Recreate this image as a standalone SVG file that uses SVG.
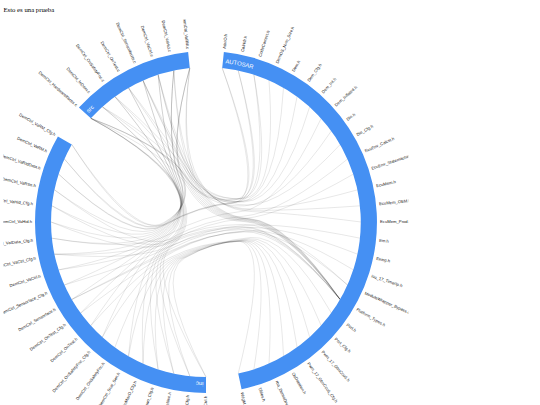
<svg xmlns="http://www.w3.org/2000/svg" width="540" height="405" viewBox="0 0 540 405">
<style>
.lnk{fill:none;stroke:#000;stroke-opacity:.16;stroke-width:.6}
.lbl{font-family:"Liberation Sans",Arial,sans-serif;font-size:4.2px;fill:#222}
.le{text-anchor:end}
.arc{fill:#4590f3}
.gl{font-family:"Liberation Sans",Arial,sans-serif;font-size:5.9px;fill:#fff}
</style>
<defs>
<clipPath id="clip"><rect x="3.4" y="19.5" width="405" height="400"/></clipPath>
<path id="tpA" d="M16.72,-159.12A160,160 0 0 1 33.27,156.5"/>
<path id="tpI" d="M0,160A160,160 0 0 1 -138.6,-80"/>
<path id="tpS" d="M-118.9,-107.1A160,160 0 0 1 -16.7,-159.1"/>
</defs>
<rect width="540" height="405" fill="#fff"/>
<text x="3.4" y="12" font-family="'Liberation Serif',serif" font-size="6.75" fill="#000">Esto es una prueba</text>
<g clip-path="url(#clip)">
<g transform="translate(206,222)">
<g id="links">
<path class="lnk" d="M-115.2,-103.7Q-42.9,-64.6 -25.8,-30.4T-35,25.2T0,155"/>
<path class="lnk" d="M-115.2,-103.7Q-43.5,-64.6 -26.7,-30.4T-36.5,25.1T-16.2,154.1"/>
<path class="lnk" d="M-115.2,-103.7Q-44.1,-64.7 -27.6,-30.5T-38,24.8T-32.2,151.6"/>
<path class="lnk" d="M-115.2,-103.7Q-44.7,-64.8 -28.4,-30.8T-39.5,24.4T-47.9,147.4"/>
<path class="lnk" d="M-103.7,-115.2Q-43.9,-66.4 -28.2,-32.2T-40.2,23.2T-63,141.6"/>
<path class="lnk" d="M-103.7,-115.2Q-44.5,-66.6 -29,-32.6T-41.6,22.6T-77.5,134.2"/>
<path class="lnk" d="M-91.1,-125.4Q-44,-68.5 -29.3,-34.6T-43.4,20.2T-103.7,115.2"/>
<path class="lnk" d="M-91.1,-125.4Q-44.5,-68.9 -30,-35.3T-44.4,19.1T-115.2,103.7"/>
<path class="lnk" d="M-77.5,-134.2Q-43.3,-70.4 -29.3,-36.8T-44.6,17.4T-125.4,91.1"/>
<path class="lnk" d="M-77.5,-134.2Q-43.7,-70.9 -29.8,-37.6T-45.4,16.2T-134.2,77.5"/>
<path class="lnk" d="M-63,-141.6Q-42.3,-72.3 -28.8,-39.1T-45.3,14.4T-141.6,63"/>
<path class="lnk" d="M-63,-141.6Q-42.5,-72.8 -29.2,-39.9T-45.9,13T-147.4,47.9"/>
<path class="lnk" d="M-47.9,-147.4Q-41,-74.1 -28,-41.4T-45.4,11.2T-151.6,32.2"/>
<path class="lnk" d="M-47.9,-147.4Q-41.1,-74.7 -28.1,-42.3T-45.6,9.7T-154.1,16.2"/>
<path class="lnk" d="M-32.2,-151.6Q-39.3,-76.4 -26.6,-44.5T-44.8,6.4T-154.1,-16.2"/>
<path class="lnk" d="M-32.2,-151.6Q-39.2,-77 -26.5,-45.4T-44.5,4.9T-151.6,-32.2"/>
<path class="lnk" d="M-32.2,-151.6Q-39.3,-75.8 -26.7,-43.6T-44.8,7.9T-155,0"/>
<path class="lnk" d="M-16.2,-154.1Q-37,-78.4 -24.4,-47.4T-42.7,1.9T-141.6,-63"/>
<path class="lnk" d="M-16.2,-154.1Q-36.8,-79 -24,-48.2T-42,0.5T-134.2,-77.5"/>
<path class="lnk" d="M-16.2,-154.1Q-37.3,-77.8 -24.8,-46.5T-43.2,3.3T-147.4,-47.9"/>
<path class="lnk" d="M-115.2,-103.7Q-37.8,-67.5 -18.2,-34.7T39,-0.3T134.2,77.5"/>
<path class="lnk" d="M-115.2,-103.7Q-40,-75.4 -21.4,-46.6T33.7,-20.1T77.5,-134.2"/>
<path class="lnk" d="M-115.2,-103.7Q-38.2,-73.8 -18.7,-44.2T38.2,-16.1T125.4,-91.1"/>
<path class="lnk" d="M-103.7,-115.2Q-36.5,-68.8 -17.1,-35.8T39.7,-0.9T134.2,77.5"/>
<path class="lnk" d="M-91.1,-125.4Q-35.1,-69.9 -15.9,-36.7T40.4,-1.5T134.2,77.5"/>
<path class="lnk" d="M-91.1,-125.4Q-36.7,-77.5 -18.4,-48.2T36.3,-20.5T91.1,-125.4"/>
<path class="lnk" d="M-77.5,-134.2Q-33.6,-70.9 -14.7,-37.6T41.1,-2T134.2,77.5"/>
<path class="lnk" d="M-77.5,-134.2Q-34.7,-78.1 -16.4,-48.4T38.3,-20.1T103.7,-115.2"/>
<path class="lnk" d="M-63,-141.6Q-32,-71.7 -13.3,-38.3T41.9,-2.4T134.2,77.5"/>
<path class="lnk" d="M-63,-141.6Q-32,-77.5 -13.3,-47T41.9,-17T134.2,-77.5"/>
<path class="lnk" d="M-47.9,-147.4Q-30.3,-72.4 -11.9,-38.8T42.8,-2.8T134.2,77.5"/>
<path class="lnk" d="M-47.9,-147.4Q-29.6,-76.5 -10.9,-45T44.4,-13T151.6,-32.2"/>
<path class="lnk" d="M-32.2,-151.6Q-28.5,-72.9 -10.4,-39.2T43.7,-3T134.2,77.5"/>
<path class="lnk" d="M-32.2,-151.6Q-27.8,-76.4 -9.3,-44.5T45.5,-11.8T154.1,-16.2"/>
<path class="lnk" d="M-16.2,-154.1Q-26.7,-73.1 -8.9,-39.4T44.6,-3.1T134.2,77.5"/>
<path class="lnk" d="M-16.2,-154.1Q-25.9,-76 -7.8,-43.8T46.5,-10.4T155,0"/>
<path class="lnk" d="M-115.2,-103.7Q-42.3,-76.2 -24.8,-47.7T27.9,-22T16.2,-154.1"/>
<path class="lnk" d="M-103.7,-115.2Q-40.4,-77.3 -22.9,-48.7T30.1,-22.4T32.2,-151.6"/>
<path class="lnk" d="M-63,-141.6Q-35.2,-80.2 -18.2,-50.9T33.8,-23.5T47.9,-147.4"/>
<path class="lnk" d="M-47.9,-147.4Q-32.9,-80.6 -15.9,-51.1T36.1,-23.3T63,-141.6"/>
<path class="lnk" d="M0,155Q-52.3,53.8 -21.5,36.1T44.7,15.5T125.4,91.1"/>
<path class="lnk" d="M-16.2,154.1Q-54.5,54.1 -23.5,36.7T42.8,16.7T115.2,103.7"/>
<path class="lnk" d="M-32.2,151.6Q-56.7,54.3 -25.7,37.1T40.8,17.6T103.7,115.2"/>
<path class="lnk" d="M-47.9,147.4Q-59,54.2 -27.9,37.3T38.8,18.3T91.1,125.4"/>
<path class="lnk" d="M-63,141.6Q-61.2,53.9 -30.1,37.3T36.6,18.8T77.5,134.2"/>
<path class="lnk" d="M-77.5,134.2Q-63.4,53.3 -32.2,37T34.5,19.1T63,141.6"/>
<path class="lnk" d="M-91.1,125.4Q-65.5,52.5 -34.4,36.5T32.3,19.1T47.9,147.4"/>
<path class="lnk" d="M-103.7,115.2Q-67.5,51.5 -36.4,35.8T30.1,19T32.2,151.6"/>
<path class="lnk" d="M-115.2,103.7Q-64.4,46.4 -31,28.9T40.2,8.6T147.4,47.9"/>
<path class="lnk" d="M-125.4,91.1Q-65.8,45.5 -32.3,28.5T39.1,9.3T141.6,63"/>
<path class="lnk" d="M-134.2,77.5Q-66.4,42.8 -32.6,25.5T39.6,5.7T151.6,32.2"/>
<path class="lnk" d="M-141.6,63Q-67.2,40.6 -33.1,23.3T39.4,3.3T154.1,16.2"/>
<path class="lnk" d="M-147.4,47.9Q-68.1,36.5 -34,18.3T38.4,-3.5T147.4,-47.9"/>
<path class="lnk" d="M-151.6,32.2Q-68.8,34.2 -34.7,15.9T37.6,-5.8T141.6,-63"/>
<path class="lnk" d="M-154.1,16.2Q-70,30.8 -36.5,12.1T35,-10.5T115.2,-103.7"/>
<path class="lnk" d="M-155,0Q-69.4,35.8 -35.5,20.8T36.8,5.5T134.2,77.5"/>
<path class="lnk" d="M-154.1,-16.2Q-69.3,34 -35.4,19.3T36.8,4.6T134.2,77.5"/>
<path class="lnk" d="M-151.6,-32.2Q-68.8,31.6 -34.7,17T37.6,2.4T141.6,63"/>
<path class="lnk" d="M-147.4,-47.9Q-73,21.7 -41.4,3.3T26.1,-18.9T16.2,-154.1"/>
<path class="lnk" d="M-141.6,-63Q-71.7,20.1 -40,2T28,-19.5T32.2,-151.6"/>
<path class="lnk" d="M-134.2,-77.5Q-70.3,18.7 -38.4,0.9T29.8,-19.9T47.9,-147.4"/>
<path class="lnk" d="M-134.2,77.5Q-67.1,44.5 -33.5,28.1T37.9,9.9T134.2,77.5"/>
<path class="lnk" d="M-151.6,32.2Q-69,39.4 -35.2,23.8T37,7.4T134.2,77.5"/>
</g>
<g id="group-AUTOSAR">
<path class="arc" d="M17.87,-170.06A171,171 0 0 1 35.55,167.26L32.2,151.6A155,155 0 0 0 16.2,-154.1Z"/>
<text class="gl"><textPath href="#tpA" startOffset="2.5">AUTOSAR</textPath></text>
</g>
<g id="group-inc">
<path class="arc" d="M0,171A171,171 0 0 1 -148.09,-85.5L-134.2,-77.5A155,155 0 0 0 0,155Z"/>
<text class="gl"><textPath href="#tpI" startOffset="2.5">inc</textPath></text>
</g>
<g id="group-src">
<path class="arc" d="M-127.07,-114.42A171,171 0 0 1 -17.87,-170.06L-16.2,-154.1A155,155 0 0 0 -115.2,-103.7Z"/>
<text class="gl"><textPath href="#tpS" startOffset="2.5">src</textPath></text>
</g>
<g id="leaves">
<g id="a0"><text class="lbl" dy=".35em" transform="rotate(-84)translate(174)">AdvIO.h</text></g>
<g id="a1"><text class="lbl" dy=".35em" transform="rotate(-78)translate(174)">CalHdr.h</text></g>
<g id="a2"><text class="lbl" dy=".35em" transform="rotate(-72)translate(174)">CodeCorrect.h</text></g>
<g id="a3"><text class="lbl" dy=".35em" transform="rotate(-66)translate(174)">DemOS_Nvm_Size.h</text></g>
<g id="a4"><text class="lbl" dy=".35em" transform="rotate(-60)translate(174)">Dem.h</text></g>
<g id="a5"><text class="lbl" dy=".35em" transform="rotate(-54)translate(174)">Dem_Cfg.h</text></g>
<g id="a6"><text class="lbl" dy=".35em" transform="rotate(-48)translate(174)">Dem_Int.h</text></g>
<g id="a7"><text class="lbl" dy=".35em" transform="rotate(-42)translate(174)">Dem_Inflated.h</text></g>
<g id="a8"><text class="lbl" dy=".35em" transform="rotate(-36)translate(174)">Dio.h</text></g>
<g id="a9"><text class="lbl" dy=".35em" transform="rotate(-30)translate(174)">Dio_Cfg.h</text></g>
<g id="a10"><text class="lbl" dy=".35em" transform="rotate(-24)translate(174)">EcuEnv_Calcst.h</text></g>
<g id="a11"><text class="lbl" dy=".35em" transform="rotate(-18)translate(174)">EcuEnv_Statemachine.h</text></g>
<g id="a12"><text class="lbl" dy=".35em" transform="rotate(-12)translate(174)">EcuMem.h</text></g>
<g id="a13"><text class="lbl" dy=".35em" transform="rotate(-6)translate(174)">EcuMem_OEM.h</text></g>
<g id="a14"><text class="lbl" dy=".35em" transform="rotate(0)translate(174)">EcuMem_Prod.h</text></g>
<g id="a15"><text class="lbl" dy=".35em" transform="rotate(6)translate(174)">Em.h</text></g>
<g id="a16"><text class="lbl" dy=".35em" transform="rotate(12)translate(174)">Eeing.h</text></g>
<g id="a17"><text class="lbl" dy=".35em" transform="rotate(18)translate(174)">Icu_17_TimerIp.h</text></g>
<g id="a18"><text class="lbl" dy=".35em" transform="rotate(24)translate(174)">ModuleWrapper_Bypass.c</text></g>
<g id="a19"><text class="lbl" dy=".35em" transform="rotate(30)translate(174)">Platform_Types.h</text></g>
<g id="a20"><text class="lbl" dy=".35em" transform="rotate(36)translate(174)">Port.h</text></g>
<g id="a21"><text class="lbl" dy=".35em" transform="rotate(42)translate(174)">Port_Cfg.h</text></g>
<g id="a22"><text class="lbl" dy=".35em" transform="rotate(48)translate(174)">Pwm_17_GtmCcu6.h</text></g>
<g id="a23"><text class="lbl" dy=".35em" transform="rotate(54)translate(174)">Pwm_17_GtmCcu6_Cfg.h</text></g>
<g id="a24"><text class="lbl" dy=".35em" transform="rotate(60)translate(174)">OsDatation.h</text></g>
<g id="a25"><text class="lbl" dy=".35em" transform="rotate(66)translate(174)">rba_DemoDrv.h</text></g>
<g id="a26"><text class="lbl" dy=".35em" transform="rotate(72)translate(174)">Tibles.h</text></g>
<g id="a27"><text class="lbl" dy=".35em" transform="rotate(78)translate(174)">WdgM.h</text></g>
<g id="i0"><text class="lbl le" dy=".35em" transform="rotate(90)translate(174)rotate(180)">DemCtrl.h</text></g>
<g id="i1"><text class="lbl le" dy=".35em" transform="rotate(96)translate(174)rotate(180)">DemCtrl_Cfg.h</text></g>
<g id="i2"><text class="lbl le" dy=".35em" transform="rotate(102)translate(174)rotate(180)">DemCtrl_ActiveNen.h</text></g>
<g id="i3"><text class="lbl le" dy=".35em" transform="rotate(108)translate(174)rotate(180)">DemCtrl_Countdown_Cfg.h</text></g>
<g id="i4"><text class="lbl le" dy=".35em" transform="rotate(114)translate(174)rotate(180)">DemCtrl_MinMaxD_Cfg.h</text></g>
<g id="i5"><text class="lbl le" dy=".35em" transform="rotate(120)translate(174)rotate(180)">DemCtrl_Scal_Sen.h</text></g>
<g id="i6"><text class="lbl le" dy=".35em" transform="rotate(126)translate(174)rotate(180)">DemCtrl_OnSafetyFnc.h</text></g>
<g id="i7"><text class="lbl le" dy=".35em" transform="rotate(132)translate(174)rotate(180)">DemCtrl_OnSafetyFnc_Cfg.h</text></g>
<g id="i8"><text class="lbl le" dy=".35em" transform="rotate(138)translate(174)rotate(180)">DemCtrl_OnTest.h</text></g>
<g id="i9"><text class="lbl le" dy=".35em" transform="rotate(144)translate(174)rotate(180)">DemCtrl_OnTest_Cfg.h</text></g>
<g id="i10"><text class="lbl le" dy=".35em" transform="rotate(150)translate(174)rotate(180)">DemCtrl_Sensorface.h</text></g>
<g id="i11"><text class="lbl le" dy=".35em" transform="rotate(156)translate(174)rotate(180)">DemCtrl_Sensorface_Cfg.h</text></g>
<g id="i12"><text class="lbl le" dy=".35em" transform="rotate(162)translate(174)rotate(180)">DemCtrl_VaCtrl.h</text></g>
<g id="i13"><text class="lbl le" dy=".35em" transform="rotate(168)translate(174)rotate(180)">DemCtrl_VaCtrl_Cfg.h</text></g>
<g id="i14"><text class="lbl le" dy=".35em" transform="rotate(174)translate(174)rotate(180)">DemCtrl_VaIData_Cfg.h</text></g>
<g id="i15"><text class="lbl le" dy=".35em" transform="rotate(180)translate(174)rotate(180)">DemCtrl_VaHid.h</text></g>
<g id="i16"><text class="lbl le" dy=".35em" transform="rotate(186)translate(174)rotate(180)">DemCtrl_VaHid_Cfg.h</text></g>
<g id="i17"><text class="lbl le" dy=".35em" transform="rotate(192)translate(174)rotate(180)">DemCtrl_VaRSe.h</text></g>
<g id="i18"><text class="lbl le" dy=".35em" transform="rotate(198)translate(174)rotate(180)">DemCtrl_VaRIdData.h</text></g>
<g id="i19"><text class="lbl le" dy=".35em" transform="rotate(204)translate(174)rotate(180)">DemCtrl_VaRM.h</text></g>
<g id="i20"><text class="lbl le" dy=".35em" transform="rotate(210)translate(174)rotate(180)">DemCtrl_VaRM_Cfg.h</text></g>
<g id="s0"><text class="lbl le" dy=".35em" transform="rotate(222)translate(174)rotate(180)">DemCtrl_HardwareIfaces.c</text></g>
<g id="s1"><text class="lbl le" dy=".35em" transform="rotate(228)translate(174)rotate(180)">DemCtrl_InDem.c</text></g>
<g id="s2"><text class="lbl le" dy=".35em" transform="rotate(234)translate(174)rotate(180)">DemCtrl_OnSafetyFnc.c</text></g>
<g id="s3"><text class="lbl le" dy=".35em" transform="rotate(240)translate(174)rotate(180)">DemCtrl_OnTest.c</text></g>
<g id="s4"><text class="lbl le" dy=".35em" transform="rotate(246)translate(174)rotate(180)">DemCtrl_Sensorfaults.c</text></g>
<g id="s5"><text class="lbl le" dy=".35em" transform="rotate(252)translate(174)rotate(180)">DemCtrl_VaCtrl.c</text></g>
<g id="s6"><text class="lbl le" dy=".35em" transform="rotate(258)translate(174)rotate(180)">DemCtrl_VaHid.c</text></g>
<g id="s7"><text class="lbl le" dy=".35em" transform="rotate(264)translate(174)rotate(180)">DemCtrl_VaRM.c</text></g>
</g>
</g>
</g>
</svg>
